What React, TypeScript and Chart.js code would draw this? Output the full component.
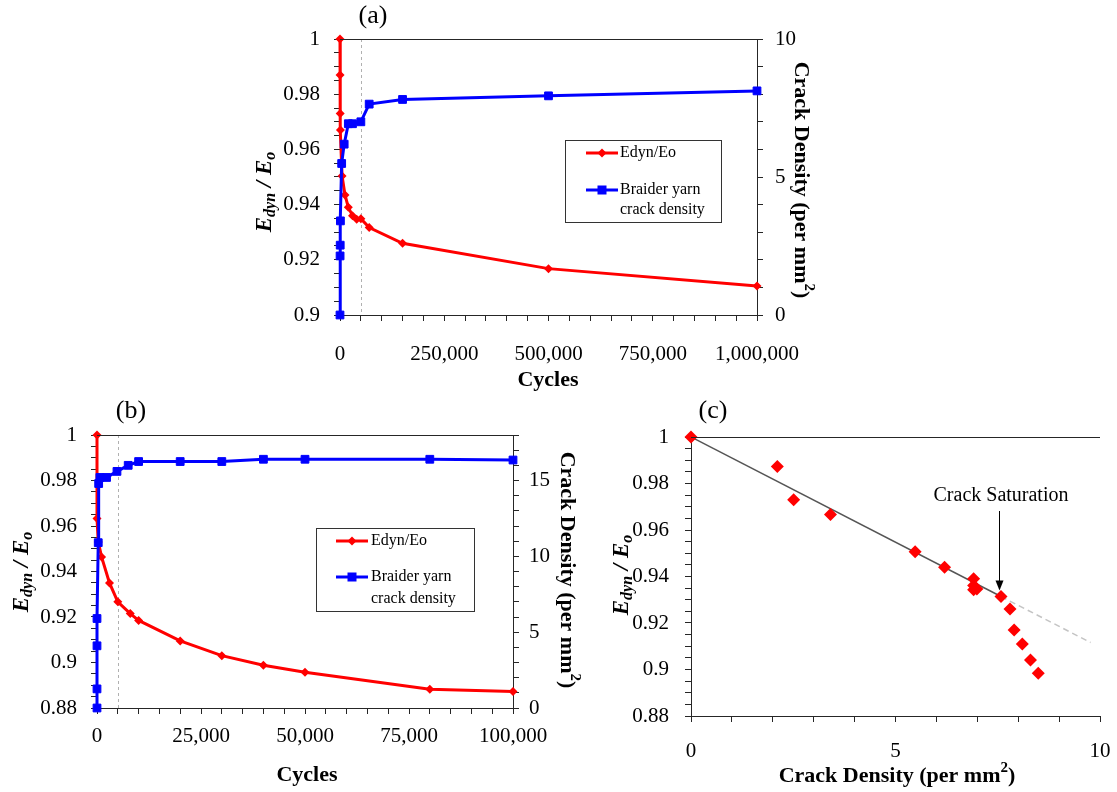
import React, { useEffect, useRef } from 'react';
import { Chart, registerables } from 'chart.js';
Chart.register(...registerables);

const FONT = "'Liberation Serif', 'Times New Roman', serif";
const RED = '#FF0000';
const BLUE = '#0000FF';
const AX = '#262626';
const W = 1117;
const H = 792;

// ---------- (a) ----------
const cyclesA_E = [0, 200, 500, 1000, 5000, 12000, 20000, 30000, 40000, 50000, 70000, 150000, 500000, 1000000];
const edynA = [1.0, 0.987, 0.973, 0.967, 0.9504, 0.9435, 0.939, 0.936, 0.9347, 0.9349, 0.9317, 0.926, 0.9168, 0.9105];
const cyclesA_C = [0, 200, 500, 1000, 4000, 10000, 20000, 30000, 50000, 70000, 150000, 500000, 1000000];
const crackA = [0, 2.14, 2.53, 3.41, 5.49, 6.19, 6.93, 6.93, 7.0, 7.64, 7.81, 7.94, 8.12];
const xMajorsA = [0, 250000, 500000, 750000, 1000000];
const yMajorsA = [0.9, 0.92, 0.94, 0.96, 0.98, 1];
const y1MajorsA = [0, 5, 10];
const markerA = 50000;

// ---------- (b) ----------
const cyclesB_E = [0, 0, 300, 1100, 3000, 5000, 8000, 10000, 20000, 30000, 40000, 50000, 80000, 100000];
const edynB = [1.0, 0.9633, 0.953, 0.9464, 0.935, 0.9267, 0.9215, 0.9185, 0.9095, 0.903, 0.8988, 0.8957, 0.8882, 0.8873];
const cyclesB_C = [0, 0, 0, 0, 300, 400, 700, 2300, 4800, 7500, 10000, 20000, 30000, 40000, 50000, 80000, 100000];
const crackB = [0, 1.26, 4.1, 5.9, 10.9, 14.8, 15.2, 15.2, 15.6, 16.0, 16.25, 16.25, 16.25, 16.4, 16.4, 16.4, 16.35];
const xMajorsB = [0, 25000, 50000, 75000, 100000];
const yMajorsB = [0.88, 0.9, 0.92, 0.94, 0.96, 0.98, 1];
const y1MajorsB = [0, 5, 10, 15];
const markerB = 5000;

// ---------- (c) ----------
const densityC = [0, 2.11, 2.51, 3.41, 5.48, 6.2, 6.91, 6.91, 6.91, 6.99, 7.58, 7.8, 7.9, 8.1, 8.3, 8.49];
const edynC = [1.0, 0.9873, 0.973, 0.9667, 0.9506, 0.944, 0.939, 0.9361, 0.9343, 0.9346, 0.9314, 0.926, 0.917, 0.911, 0.9041, 0.8984];
const fitSolidX = [0, 7.58];
const fitSolidY = [1.0, 0.9314];
const fitDashX = [7.58, 9.77];
const fitDashY = [0.9314, 0.9116];
const xMajorsC = [0, 5, 10];
const yMajorsC = [0.88, 0.9, 0.92, 0.94, 0.96, 0.98, 1];
const saturationX = 7.58;
const saturationY = 0.9314;

const legendLabels = ['Edyn/Eo', 'Braider yarn', 'crack density'];

const fmtNum = (v: number) => v.toLocaleString('en-US');
const fmtPlain = (v: number) => String(v);

function range(min: number, max: number, step: number) {
  const n = Math.round((max - min) / step);
  const out: number[] = [];
  for (let i = 0; i <= n; i++) out.push(min + i * step);
  return out;
}

function axis(o: {
  pos: 'left' | 'right' | 'bottom';
  min: number; max: number; step: number; majors: number[];
  fmt: (v: number) => string; size: number; padding: number;
}) {
  const horizontal = o.pos === 'bottom';
  return {
    type: 'linear',
    position: o.pos,
    min: o.min,
    max: o.max,
    afterBuildTicks: (s: any) => {
      s.ticks = range(o.min, o.max, o.step).map((v) => ({ value: v }));
    },
    afterFit: (s: any) => {
      if (horizontal) s.height = o.size; else s.width = o.size;
      s.paddingLeft = 0; s.paddingRight = 0; s.paddingTop = 0; s.paddingBottom = 0;
    },
    ticks: {
      autoSkip: false,
      maxRotation: 0,
      minRotation: 0,
      padding: o.padding,
      color: '#000',
      font: { family: FONT, size: 21 },
      callback: (v: any) => {
        const m = o.majors.find((x) => Math.abs(x - Number(v)) < 1e-7);
        return m === undefined ? '' : o.fmt(m);
      },
    },
    grid: { drawOnChartArea: false, drawTicks: true, tickLength: 6, tickColor: AX, tickWidth: 1 },
    border: { display: true, color: AX, width: 1 },
  };
}

type Seg = { t: string; f: string; dy?: number };

function drawRich(ctx: CanvasRenderingContext2D, segs: Seg[], cx: number, cy: number, rot: number) {
  ctx.save();
  ctx.translate(cx, cy);
  ctx.rotate(rot);
  let w = 0;
  for (const s of segs) { ctx.font = s.f; w += ctx.measureText(s.t).width; }
  let x = -w / 2;
  ctx.textBaseline = 'middle';
  ctx.textAlign = 'left';
  ctx.fillStyle = '#000';
  for (const s of segs) {
    ctx.font = s.f;
    ctx.fillText(s.t, x, s.dy || 0);
    x += ctx.measureText(s.t).width;
  }
  ctx.restore();
}

const edynTitle: Seg[] = [
  { t: 'E', f: `italic bold 23px ${FONT}` },
  { t: 'dyn', f: `italic bold 16px ${FONT}`, dy: 6 },
  { t: ' / E', f: `italic bold 23px ${FONT}` },
  { t: 'o', f: `italic bold 16px ${FONT}`, dy: 6 },
];
const crackTitle: Seg[] = [
  { t: 'Crack Density (per mm', f: `bold 22px ${FONT}` },
  { t: '2', f: `bold 15px ${FONT}`, dy: -8 },
  { t: ')', f: `bold 22px ${FONT}` },
];

function text(ctx: CanvasRenderingContext2D, t: string, x: number, y: number, font: string, align: CanvasTextAlign = 'center') {
  ctx.save();
  ctx.font = font;
  ctx.fillStyle = '#000';
  ctx.textAlign = align;
  ctx.textBaseline = 'middle';
  ctx.fillText(t, x, y);
  ctx.restore();
}

function diamond(ctx: CanvasRenderingContext2D, x: number, y: number, r: number, c: string) {
  ctx.beginPath();
  ctx.moveTo(x, y - r); ctx.lineTo(x + r, y); ctx.lineTo(x, y + r); ctx.lineTo(x - r, y); ctx.closePath();
  ctx.fillStyle = c; ctx.fill();
}

function drawLegend(ctx: CanvasRenderingContext2D, L: { x: number; y: number; w: number; h: number; ry: number; by: number; by2: number; sx0: number; sx1: number; tx: number }) {
  ctx.save();
  ctx.strokeStyle = '#333';
  ctx.lineWidth = 1;
  ctx.strokeRect(L.x + 0.5, L.y + 0.5, L.w, L.h);
  ctx.lineWidth = 3;
  ctx.strokeStyle = RED;
  ctx.beginPath(); ctx.moveTo(L.sx0, L.ry); ctx.lineTo(L.sx1, L.ry); ctx.stroke();
  diamond(ctx, (L.sx0 + L.sx1) / 2, L.ry, 4.5, RED);
  ctx.strokeStyle = BLUE;
  ctx.beginPath(); ctx.moveTo(L.sx0, L.by); ctx.lineTo(L.sx1, L.by); ctx.stroke();
  ctx.fillStyle = BLUE;
  ctx.fillRect((L.sx0 + L.sx1) / 2 - 4.5, L.by - 4.5, 9, 9);
  ctx.restore();
  const f = `16px ${FONT}`;
  text(ctx, legendLabels[0], L.tx, L.ry, f, 'left');
  text(ctx, legendLabels[1], L.tx, L.by, f, 'left');
  text(ctx, legendLabels[2], L.tx, L.by2, f, 'left');
}

function topBorder(chart: any) {
  const { ctx, chartArea } = chart;
  ctx.save();
  ctx.strokeStyle = AX;
  ctx.lineWidth = 1;
  ctx.beginPath();
  ctx.moveTo(chartArea.left, Math.round(chartArea.top) + 0.5);
  ctx.lineTo(chartArea.right, Math.round(chartArea.top) + 0.5);
  ctx.stroke();
  ctx.restore();
}

function dashedV(chart: any, value: number) {
  const { ctx, chartArea } = chart;
  const x = Math.round(chart.scales.x.getPixelForValue(value)) + 0.5;
  ctx.save();
  ctx.strokeStyle = '#b0b0b0';
  ctx.lineWidth = 1;
  ctx.setLineDash([3, 3]);
  ctx.beginPath();
  ctx.moveTo(x, chartArea.top);
  ctx.lineTo(x, chartArea.bottom);
  ctx.stroke();
  ctx.restore();
}

const pts = (xs: number[], ys: number[]) => xs.map((x, i) => ({ x, y: ys[i] }));

function lineDatasets(xE: number[], yE: number[], xC: number[], yC: number[]) {
  return [
    {
      label: 'Braider yarn crack density', data: pts(xC, yC), yAxisID: 'y1', order: 0, clip: false,
      borderColor: BLUE, backgroundColor: BLUE, borderWidth: 3, pointStyle: 'rect',
      pointRadius: 5.5, pointBorderWidth: 1, tension: 0,
    },
    {
      label: 'Edyn/Eo', data: pts(xE, yE), yAxisID: 'y', order: 1, clip: false,
      borderColor: RED, backgroundColor: RED, borderWidth: 3, pointStyle: 'rectRot',
      pointRadius: 4.5, pointBorderWidth: 0, tension: 0,
    },
  ];
}

const baseOptions = {
  responsive: false,
  animation: false,
  events: [],
  plugins: { legend: { display: false }, tooltip: { enabled: false } },
};

function makeA(cv: HTMLCanvasElement) {
  return new Chart(cv, {
    type: 'line',
    data: { datasets: lineDatasets(cyclesA_E, edynA, cyclesA_C, crackA) as any },
    options: {
      ...baseOptions,
      layout: { padding: { top: 39, left: 0, right: 0, bottom: 0 } },
      scales: {
        x: axis({ pos: 'bottom', min: 0, max: 1000000, step: 50000, majors: xMajorsA, fmt: fmtNum, size: H - 315, padding: 21 }),
        y: axis({ pos: 'left', min: 0.9, max: 1, step: 0.005, majors: yMajorsA, fmt: fmtPlain, size: 340, padding: 14 }),
        y1: axis({ pos: 'right', min: 0, max: 10, step: 1, majors: y1MajorsA, fmt: fmtPlain, size: W - 757, padding: 12 }),
      },
    } as any,
    plugins: [{
      id: 'ovA',
      beforeDatasetsDraw(chart: any) { dashedV(chart, markerA); },
      afterDraw(chart: any) {
        const ctx = chart.ctx;
        topBorder(chart);
        text(ctx, '(a)', 373, 16, `26px ${FONT}`);
        text(ctx, 'Cycles', 548, 380, `bold 22px ${FONT}`);
        drawRich(ctx, edynTitle, 265, 192, -Math.PI / 2);
        drawRich(ctx, crackTitle, 801, 180, Math.PI / 2);
        drawLegend(ctx, { x: 565, y: 140, w: 156, h: 82, ry: 153, by: 190, by2: 210, sx0: 586, sx1: 618, tx: 620 });
      },
    }],
  });
}

function makeB(cv: HTMLCanvasElement) {
  return new Chart(cv, {
    type: 'line',
    data: { datasets: lineDatasets(cyclesB_E, edynB, cyclesB_C, crackB) as any },
    options: {
      ...baseOptions,
      layout: { padding: { top: 435, left: 0, right: 0, bottom: 0 } },
      scales: {
        x: axis({ pos: 'bottom', min: 0, max: 100000, step: 5000, majors: xMajorsB, fmt: fmtNum, size: H - 708, padding: 10 }),
        y: axis({ pos: 'left', min: 0.88, max: 1, step: 0.005, majors: yMajorsB, fmt: fmtPlain, size: 97, padding: 14 }),
        y1: axis({ pos: 'right', min: 0, max: 18, step: 1, majors: y1MajorsB, fmt: fmtPlain, size: W - 513, padding: 10 }),
      },
    } as any,
    plugins: [{
      id: 'ovB',
      beforeDatasetsDraw(chart: any) { dashedV(chart, markerB); },
      afterDraw(chart: any) {
        const ctx = chart.ctx;
        topBorder(chart);
        text(ctx, '(b)', 131, 411, `26px ${FONT}`);
        text(ctx, 'Cycles', 307, 775, `bold 22px ${FONT}`);
        drawRich(ctx, edynTitle, 22, 572, -Math.PI / 2);
        drawRich(ctx, crackTitle, 567, 570, Math.PI / 2);
        drawLegend(ctx, { x: 316, y: 528, w: 158, h: 83, ry: 541, by: 577, by2: 599, sx0: 336, sx1: 368, tx: 371 });
      },
    }],
  });
}

function makeC(cv: HTMLCanvasElement) {
  return new Chart(cv, {
    type: 'scatter',
    data: {
      datasets: [
        {
          label: 'Edyn/Eo', data: pts(densityC, edynC), order: 0, showLine: false, clip: false,
          borderColor: RED, backgroundColor: RED, pointStyle: 'rectRot', pointRadius: 6.5, pointBorderWidth: 0,
        },
        {
          label: 'fit', data: pts(fitSolidX, fitSolidY), order: 1, showLine: true,
          borderColor: '#555555', borderWidth: 1.5, pointRadius: 0,
        },
        {
          label: 'fit ext', data: pts(fitDashX, fitDashY), order: 2, showLine: true,
          borderColor: '#c4c4c4', borderWidth: 1.5, borderDash: [6, 4], pointRadius: 0,
        },
      ] as any,
    },
    options: {
      ...baseOptions,
      layout: { padding: { top: 437, left: 0, right: W - 1100, bottom: 0 } },
      scales: {
        x: axis({ pos: 'bottom', min: 0, max: 10, step: 1, majors: xMajorsC, fmt: fmtPlain, size: H - 716, padding: 17 }),
        y: axis({ pos: 'left', min: 0.88, max: 1, step: 0.005, majors: yMajorsC, fmt: fmtPlain, size: 691, padding: 16 }),
      },
    } as any,
    plugins: [{
      id: 'ovC',
      afterDraw(chart: any) {
        const ctx = chart.ctx;
        topBorder(chart);
        text(ctx, '(c)', 713, 411, `26px ${FONT}`);
        drawRich(ctx, edynTitle, 622, 575, -Math.PI / 2);
        drawRich(ctx, [
          { t: 'Crack Density (per mm', f: `bold 22px ${FONT}` },
          { t: '2', f: `bold 15px ${FONT}`, dy: -8 },
          { t: ')', f: `bold 22px ${FONT}` },
        ], 897, 776, 0);
        const ax = Math.round(chart.scales.x.getPixelForValue(saturationX)) - 1.5;
        const ay = chart.scales.y.getPixelForValue(saturationY);
        text(ctx, 'Crack Saturation', 1001, 496, `20px ${FONT}`);
        ctx.save();
        ctx.strokeStyle = '#000';
        ctx.fillStyle = '#000';
        ctx.lineWidth = 1;
        ctx.beginPath();
        ctx.moveTo(ax, 511);
        ctx.lineTo(ax, ay - 14);
        ctx.stroke();
        ctx.beginPath();
        ctx.moveTo(ax, ay - 6);
        ctx.lineTo(ax - 4, ay - 16);
        ctx.lineTo(ax + 4, ay - 16);
        ctx.closePath();
        ctx.fill();
        ctx.restore();
      },
    }],
  });
}

export default function App() {
  const refA = useRef<HTMLCanvasElement>(null);
  const refB = useRef<HTMLCanvasElement>(null);
  const refC = useRef<HTMLCanvasElement>(null);
  useEffect(() => {
    const charts = [makeA(refA.current!), makeB(refB.current!), makeC(refC.current!)];
    return () => charts.forEach((c) => c.destroy());
  }, []);
  const st: React.CSSProperties = { position: 'absolute', left: 0, top: 0 };
  return (
    <div style={{ position: 'fixed', left: 0, top: 0, width: W, height: H, background: '#fff' }}>
      <canvas ref={refA} width={W} height={H} style={st} />
      <canvas ref={refB} width={W} height={H} style={st} />
      <canvas ref={refC} width={W} height={H} style={st} />
    </div>
  );
}
